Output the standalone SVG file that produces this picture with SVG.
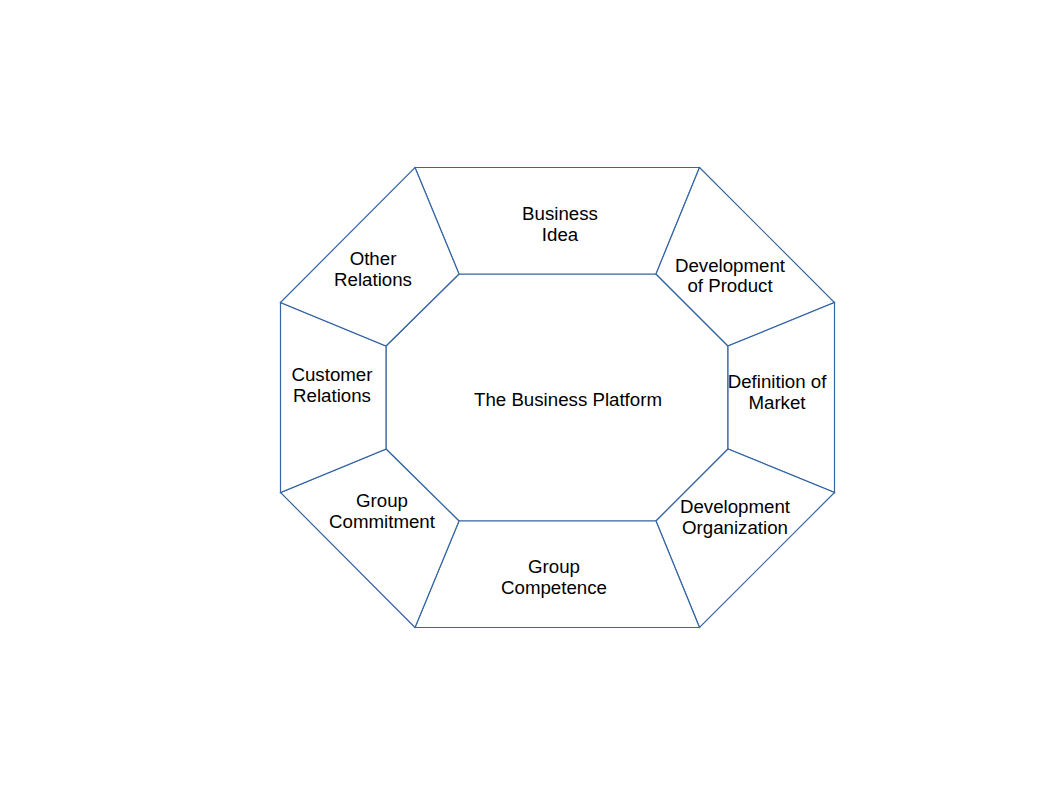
<svg xmlns="http://www.w3.org/2000/svg" width="1058" height="794" viewBox="0 0 1058 794">
<style>
.seg{fill:#ffffff;stroke:#3465a4;stroke-width:1.2;stroke-linejoin:miter}
.t{font-family:"Liberation Sans",Arial,sans-serif;font-size:18.7px;fill:#000000;text-anchor:middle}
</style>
<rect width="1058" height="794" fill="#ffffff"/>
<g id="center">
<polygon class="seg" points="459,274 656,274 728,346 728,449 656,521 459,521 386,449 386,346"/>
<text class="t" x="568" y="406">The Business Platform</text>
</g>
<g id="business-idea">
<polygon class="seg" points="415,167.5 699.5,167.5 656,274 459,274"/>
<text class="t" x="560" y="220">Business</text>
<text class="t" x="560" y="241">Idea</text>
</g>
<g id="development-product">
<polygon class="seg" points="699.5,167.5 834.5,302.5 728,346 656,274"/>
<text class="t" x="730" y="272">Development</text>
<text class="t" x="730" y="292">of Product</text>
</g>
<g id="definition-market">
<polygon class="seg" points="834.5,302.5 834.5,492.5 728,449 728,346"/>
<text class="t" x="777" y="388">Definition of</text>
<text class="t" x="777" y="409">Market</text>
</g>
<g id="development-organization">
<polygon class="seg" points="834.5,492.5 699.5,627.5 656,521 728,449"/>
<text class="t" x="735" y="513">Development</text>
<text class="t" x="735" y="534">Organization</text>
</g>
<g id="group-competence">
<polygon class="seg" points="699.5,627.5 415,627.5 459,521 656,521"/>
<text class="t" x="554" y="573">Group</text>
<text class="t" x="554" y="594">Competence</text>
</g>
<g id="group-commitment">
<polygon class="seg" points="415,627.5 280.5,492.5 386,449 459,521"/>
<text class="t" x="382" y="507">Group</text>
<text class="t" x="382" y="528">Commitment</text>
</g>
<g id="customer-relations">
<polygon class="seg" points="280.5,492.5 280.5,302.5 386,346 386,449"/>
<text class="t" x="332" y="381">Customer</text>
<text class="t" x="332" y="402">Relations</text>
</g>
<g id="other-relations">
<polygon class="seg" points="280.5,302.5 415,167.5 459,274 386,346"/>
<text class="t" x="373" y="265">Other</text>
<text class="t" x="373" y="286">Relations</text>
</g>
<g id="connectors"></g>
</svg>
